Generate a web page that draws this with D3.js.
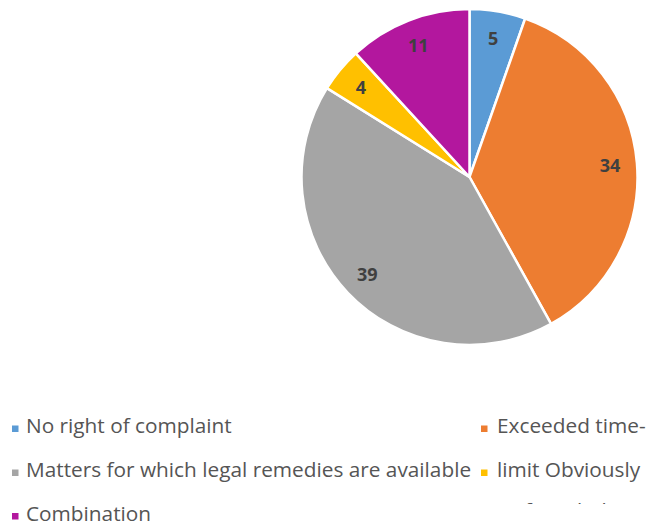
<!DOCTYPE html>
<html>
<head>
<meta charset="utf-8">
<script src="https://cdn.jsdelivr.net/npm/d3@7"></script>
<style>
  html, body { margin: 0; padding: 0; background: #ffffff; }
  svg { display: block; }
</style>
</head>
<body>
<svg id="chart" width="651" height="529"></svg>
<script>
// Complaint outcomes by category
const categories = [
  "No right of complaint",
  "Exceeded time-limit",
  "Matters for which legal remedies are available",
  "Obviously unfounded",
  "Combination"
];
const values = [5, 34, 39, 4, 11];
const colors = ["#5b9bd5", "#ed7d31", "#a5a5a5", "#ffc000", "#b3179e"];

// Legend rows as they are laid out (wrapped text)
const legendLeft = [
  { text: "No right of complaint", color: colors[0] },
  { text: "Matters for which legal remedies are available", color: colors[2] },
  { text: "Combination", color: colors[4] }
];
const legendRight = [
  { text: "Exceeded time-", color: colors[1] },
  { text: "limit Obviously", color: colors[3] },
  { text: "unfounded", color: null }
];

const svg = d3.select("#chart");
const cx = 469.5, cy = 177, radius = 168;

const pie = d3.pie().sort(null).value(d => d)(values);
const arc = d3.arc().innerRadius(0).outerRadius(radius);
const labelArc = d3.arc().innerRadius(141).outerRadius(141);

const g = svg.append("g").attr("transform", `translate(${cx},${cy})`);

g.selectAll("path.slice")
  .data(pie)
  .join("path")
  .attr("class", "slice")
  .attr("d", arc)
  .attr("fill", (d, i) => colors[i])
  .attr("stroke", "#ffffff")
  .attr("stroke-width", 2.5)
  .attr("stroke-linejoin", "round");

g.selectAll("text.val")
  .data(pie)
  .join("text")
  .attr("class", "val")
  .attr("transform", d => `translate(${labelArc.centroid(d)})`)
  .attr("text-anchor", "middle")
  .attr("dy", "0.38em")
  .attr("font-family", "'Open Sans', sans-serif")
  .attr("font-weight", "bold")
  .attr("font-size", 18)
  .attr("fill", "#404040")
  .text(d => d.data);

// Legend
const rowY = [433, 477, 520.5];
const fontSize = 20.8;
const legend = svg.append("g")
  .attr("font-family", "'Open Sans', sans-serif")
  .attr("font-size", fontSize)
  .attr("fill", "#555555");

legendLeft.forEach((item, i) => {
  legend.append("rect")
    .attr("x", 12).attr("y", rowY[i] - 7.5)
    .attr("width", 6.5).attr("height", 6.5)
    .attr("fill", item.color);
  legend.append("text")
    .attr("x", 26).attr("y", rowY[i])
    .text(item.text);
});

// Third wrapped line is cut off by the legend box, only ascender tips remain
svg.append("clipPath").attr("id", "legendClip")
  .append("rect").attr("x", 0).attr("y", 0).attr("width", 651).attr("height", 504);

legendRight.forEach((item, i) => {
  if (item.color) {
    legend.append("rect")
      .attr("x", 481).attr("y", rowY[i] - 7.5)
      .attr("width", 6.5).attr("height", 6.5)
      .attr("fill", item.color);
  }
  const t = legend.append("text")
    .attr("x", item.color ? 497 : 499).attr("y", item.color ? rowY[i] : rowY[i] - 2.5)
    .text(item.text);
  if (!item.color) t.attr("clip-path", "url(#legendClip)");
});
</script>
</body>
</html>
